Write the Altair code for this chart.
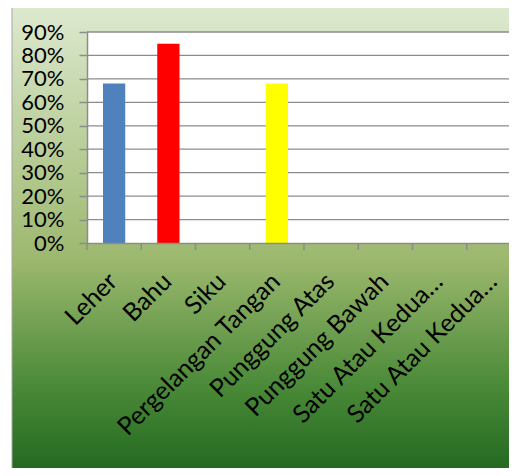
import altair as alt
import pandas as pd

categories = ["Leher", "Bahu", "Siku", "Pergelangan Tangan", "Punggung Atas",
              "Punggung Bawah", "Satu Atau Kedua…", "Satu Atau Kedua… "]
values = [0.68, 0.85, 0.0, 0.68, 0.0, 0.0, 0.0, 0.0]
bar_colors = ["#4f81bd", "#ff0000", "#9bbb59", "#ffff00",
              "#8064a2", "#4bacc6", "#f79646", "#c0504d"]
y_ticks = [0.0, 0.1, 0.2, 0.3, 0.4, 0.5, 0.6, 0.7, 0.8, 0.9]
grid_values = [0.1, 0.2, 0.3, 0.4, 0.5, 0.6, 0.7, 0.8, 0.9]

W, H = 434, 211
GRAY = "#8c8c8c"
FONT = "Lato"

df = pd.DataFrame({"cat": categories, "val": values, "color": bar_colors})
grid_df = pd.DataFrame({"v": grid_values})
one = pd.DataFrame({"k": [0]})

xscale = alt.Scale(domain=categories, paddingInner=0, paddingOuter=0)
yscale = alt.Scale(domain=[0, 0.9], nice=False, zero=True)

x_axis = alt.Axis(
    title=None, ticks=False, domainColor=GRAY, domainWidth=1.5,
    labelAngle=-45, labelAlign="right", labelBaseline="middle",
    labelPadding=34, labelOffset=-1, labelFont=FONT, labelFontSize=25,
    labelColor="black", labelLimit=0, labelOverlap=False,
    labelExpr="trim(datum.label)", zindex=1)
y_axis = alt.Axis(
    title=None, values=y_ticks, format=".0%", tickSize=8, tickColor=GRAY,
    tickWidth=1.5, domainColor=GRAY, domainWidth=1.5, grid=False,
    labelPadding=15, labelFont=FONT, labelFontSize=22, labelColor="black",
    labelOverlap=False, zindex=1)

gradient = alt.Gradient(
    gradient="linear", x1=0, y1=0, x2=0, y2=1,
    stops=[
        alt.GradientStop(offset=0.0, color="#dde9cf"),
        alt.GradientStop(offset=0.52, color="#9cb86e"),
        alt.GradientStop(offset=0.78, color="#4a8a38"),
        alt.GradientStop(offset=1.0, color="#18601a"),
    ],
)

bg = alt.Chart(one).mark_rect(fill=gradient, stroke="#a6a6a6", strokeWidth=1).encode(
    x=alt.value(-75), x2=alt.value(W + 30), y=alt.value(-25), y2=alt.value(H + 250)
)

plot_bg = alt.Chart(one).mark_rect(fill="white").encode(
    x=alt.value(0), x2=alt.value(W), y=alt.value(0), y2=alt.value(H)
)

grid = alt.Chart(grid_df).mark_rule(color=GRAY, strokeWidth=1.3).encode(
    y=alt.Y("v:Q", scale=yscale, axis=y_axis),
    x=alt.value(0), x2=alt.value(W),
)

bars = alt.Chart(df).mark_bar(width=alt.RelativeBandSize(0.41)).encode(
    x=alt.X("cat:N", scale=xscale, sort=None, axis=x_axis),
    y=alt.Y("val:Q", scale=yscale, axis=y_axis),
    color=alt.Color("color:N", scale=None),
)

ticks = alt.Chart(df).mark_rule(color=GRAY, strokeWidth=1.5).encode(
    x=alt.X("cat:N", scale=xscale, sort=None, bandPosition=0, axis=x_axis),
    y=alt.value(H), y2=alt.value(H + 7),
)

chart = alt.layer(bg, plot_bg, grid, bars, ticks).properties(
    width=W, height=H,
    autosize=alt.AutoSizeParams(type="none"),
    padding={"left": 79, "top": 24, "right": -12, "bottom": 225},
).configure_view(stroke=None)

chart.save("out.html", embed_options={"renderer": "svg", "actions": False})
